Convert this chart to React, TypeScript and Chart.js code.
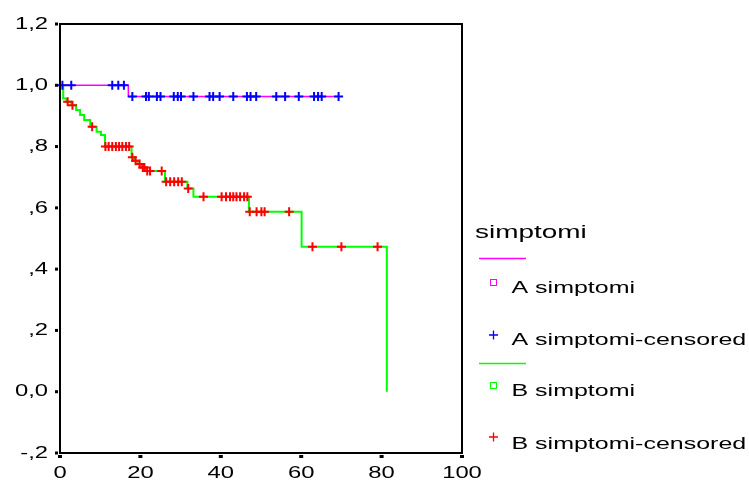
import React, { useEffect, useRef } from "react";
import { Chart, registerables } from "chart.js";

Chart.register(...registerables);

// ---- Axis ticks ----
const X_TICKS = [0, 20, 40, 60, 80, 100];
const X_TICK_LABELS = ["0", "20", "40", "60", "80", "100"];
const Y_TICKS = [1.2, 1.0, 0.8, 0.6, 0.4, 0.2, 0.0, -0.2];
const Y_TICK_LABELS = ["1,2", "1,0", ",8", ",6", ",4", ",2", "0,0", "-,2"];

// ---- Group A (step function: event time, survival after event) ----
const A_TIMES = [0, 17.0, 69.3];
const A_SURVIVAL = [1.0, 0.963, 0.963];
const A_CENSORED = [
  0.6, 2.8, 13.0, 14.5, 15.9, 18.0, 21.4, 22.1, 24.1, 25.0, 28.3, 29.3, 30.1,
  33.2, 37.2, 38.1, 39.7, 43.1, 46.5, 47.4, 48.8, 53.8, 56.0, 59.4, 63.2, 64.2,
  65.1, 69.3,
];

// ---- Group B ----
const B_TIMES = [
  0, 0.8, 1.6, 2.8, 4.0, 5.0, 6.0, 7.5, 9.1, 10.2, 11.2, 17.8, 18.4, 19.3, 20.2,
  21.4, 26.1, 31.7, 33.2, 47.0, 60.1, 81.3,
];
const B_SURVIVAL = [
  1.0, 0.957, 0.946, 0.935, 0.919, 0.903, 0.887, 0.865, 0.848, 0.838, 0.8,
  0.765, 0.754, 0.743, 0.732, 0.72, 0.685, 0.663, 0.636, 0.587, 0.473, 0.0,
];
const B_CENSORED = [
  1.9, 3.1, 8.0, 11.3, 12.1, 13.0, 13.9, 14.7, 15.5, 16.4, 17.2, 18.0, 18.8,
  19.8, 20.6, 21.0, 21.7, 22.4, 25.3, 26.4, 27.4, 28.4, 29.4, 30.3, 31.9, 35.7,
  40.2, 41.3, 42.3, 43.1, 43.9, 44.8, 45.8, 46.6, 47.2, 48.9, 50.1, 50.9, 57.0,
  62.8, 70.0, 79.0,
];

// ---- Legend ----
const LEGEND_TITLE = "simptomi";
const LEGEND_LABELS = [
  "A simptomi",
  "A simptomi-censored",
  "B simptomi",
  "B simptomi-censored",
];

const PINK = "#ff00ff";
const BLUE = "#0000ff";
const GREEN = "#00ff00";
const RED = "#ff0000";
const FONT = '"Liberation Sans", Arial, sans-serif';

function survivalAt(times: number[], surv: number[], t: number): number {
  let v = surv[0];
  for (let i = 0; i < times.length; i++) {
    if (times[i] <= t) v = surv[i];
  }
  return v;
}

function stretchedText(
  ctx: CanvasRenderingContext2D,
  text: string,
  x: number,
  y: number,
  size: number,
  sx: number,
  align: CanvasTextAlign,
  baseline: CanvasTextBaseline
) {
  ctx.save();
  ctx.translate(x, y);
  ctx.scale(sx, 1);
  ctx.font = `${size}px ${FONT}`;
  ctx.fillStyle = "#000";
  ctx.textAlign = align;
  ctx.textBaseline = baseline;
  ctx.fillText(text, 0, 0);
  ctx.restore();
}

function drawPlus(ctx: CanvasRenderingContext2D, cx: number, cy: number, r: number, color: string, w: number) {
  ctx.save();
  ctx.strokeStyle = color;
  ctx.lineWidth = w;
  ctx.beginPath();
  ctx.moveTo(cx - r, cy);
  ctx.lineTo(cx + r, cy);
  ctx.moveTo(cx, cy - r);
  ctx.lineTo(cx, cy + r);
  ctx.stroke();
  ctx.restore();
}

const decorPlugin = {
  id: "kmDecor",
  afterDraw(chart: any) {
    const ctx: CanvasRenderingContext2D = chart.ctx;
    const { left, right, top, bottom } = chart.chartArea;
    const xs = chart.scales.x;
    const ys = chart.scales.y;

    // frame
    ctx.save();
    ctx.strokeStyle = "#000";
    ctx.lineWidth = 2;
    ctx.strokeRect(left, top, right - left, bottom - top);
    ctx.restore();

    // y ticks
    ctx.fillStyle = "#000";
    Y_TICKS.forEach((v, i) => {
      const py = ys.getPixelForValue(v);
      ctx.fillStyle = "#000";
      ctx.fillRect(left - 5, py - 1.5, 3, 3);
      stretchedText(ctx, Y_TICK_LABELS[i], left - 12, py, 17, 1.4, "right", "middle");
    });

    // x ticks
    X_TICKS.forEach((v, i) => {
      const px = xs.getPixelForValue(v);
      ctx.fillStyle = "#000";
      ctx.fillRect(px - 2, bottom + 2, 4, 3);
      stretchedText(ctx, X_TICK_LABELS[i], px, bottom + 12, 17, 1.4, "center", "top");
    });

    // legend
    const lx = 475;
    stretchedText(ctx, LEGEND_TITLE, lx, 238, 19, 1.47, "left", "alphabetic");

    ctx.save();
    ctx.lineWidth = 1.5;
    ctx.strokeStyle = PINK;
    ctx.beginPath();
    ctx.moveTo(479, 258.5);
    ctx.lineTo(526, 258.5);
    ctx.stroke();
    ctx.strokeStyle = GREEN;
    ctx.beginPath();
    ctx.moveTo(479, 363.5);
    ctx.lineTo(526, 363.5);
    ctx.stroke();
    ctx.lineWidth = 1;
    ctx.strokeStyle = PINK;
    ctx.strokeRect(490.5, 279.5, 6, 6);
    ctx.strokeStyle = GREEN;
    ctx.strokeRect(490.5, 382.5, 6, 6);
    ctx.restore();

    drawPlus(ctx, 493.5, 335, 4.5, BLUE, 1.3);
    drawPlus(ctx, 493.5, 437, 4.5, RED, 1.3);

    const tx = 511.5;
    stretchedText(ctx, LEGEND_LABELS[0], tx, 292.7, 17, 1.47, "left", "alphabetic");
    stretchedText(ctx, LEGEND_LABELS[1], tx, 345, 17, 1.47, "left", "alphabetic");
    stretchedText(ctx, LEGEND_LABELS[2], tx, 396, 17, 1.47, "left", "alphabetic");
    stretchedText(ctx, LEGEND_LABELS[3], tx, 448.5, 17, 1.47, "left", "alphabetic");
  },
};

export default function App() {
  const canvasRef = useRef<HTMLCanvasElement | null>(null);

  useEffect(() => {
    const canvas = canvasRef.current;
    if (!canvas) return;

    const aLine = A_TIMES.map((t, i) => ({ x: t, y: A_SURVIVAL[i] }));
    const bLine = B_TIMES.map((t, i) => ({ x: t, y: B_SURVIVAL[i] }));
    const aCens = A_CENSORED.map((t) => ({ x: t, y: survivalAt(A_TIMES, A_SURVIVAL, t) }));
    const bCens = B_CENSORED.map((t) => ({ x: t, y: survivalAt(B_TIMES, B_SURVIVAL, t) }));

    const chart = new Chart(canvas, {
      type: "line",
      data: {
        datasets: [
          {
            label: LEGEND_LABELS[1],
            type: "scatter",
            data: aCens,
            showLine: false,
            pointStyle: "cross",
            pointRadius: 4.5,
            pointBorderWidth: 2,
            borderColor: BLUE,
            backgroundColor: BLUE,
            clip: false,
          } as any,
          {
            label: LEGEND_LABELS[3],
            type: "scatter",
            data: bCens,
            showLine: false,
            pointStyle: "cross",
            pointRadius: 4.5,
            pointBorderWidth: 2,
            borderColor: RED,
            backgroundColor: RED,
            clip: false,
          } as any,
          {
            label: LEGEND_LABELS[0],
            data: aLine,
            stepped: true,
            borderColor: PINK,
            borderWidth: 1.5,
            pointRadius: 0,
            fill: false,
          },
          {
            label: LEGEND_LABELS[2],
            data: bLine,
            stepped: true,
            borderColor: GREEN,
            borderWidth: 2,
            pointRadius: 0,
            fill: false,
          },
        ],
      },
      options: {
        animation: false,
        responsive: false,
        devicePixelRatio: 1,
        layout: { padding: { left: 60, top: 24, right: 287, bottom: 30 } },
        plugins: {
          legend: { display: false },
          tooltip: { enabled: false },
          title: { display: false },
        },
        scales: {
          x: { type: "linear", min: 0, max: 100, display: false },
          y: { type: "linear", min: -0.2, max: 1.2, display: false },
        },
      },
      plugins: [decorPlugin],
    });

    return () => chart.destroy();
  }, []);

  return (
    <div style={{ position: "fixed", left: 0, top: 0, width: 749, height: 483, background: "#fff" }}>
      <canvas ref={canvasRef} width={749} height={483} style={{ display: "block" }} />
    </div>
  );
}
